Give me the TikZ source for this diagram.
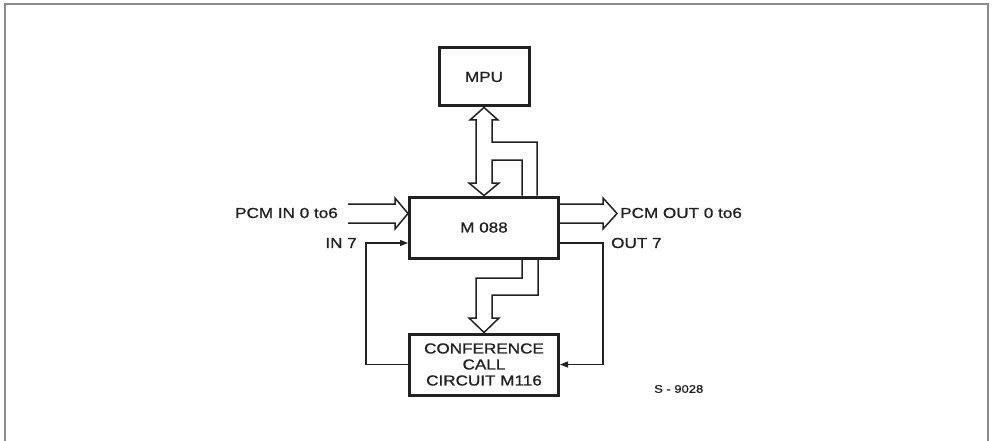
\documentclass[tikz,border=0pt]{standalone}
\usepackage{fontspec}
\setmainfont[FakeStretch=1.18,FakeBold=0.9]{Liberation Sans}
\usetikzlibrary{arrows.meta,calc}
\definecolor{ink}{gray}{0.13}
\definecolor{framec}{gray}{0.55}
\tikzset{
  blk/.style={draw=ink, line width=3pt, minimum width=149pt, minimum height=61pt, inner sep=0pt, text=ink,
    font=\fontsize{14.5}{16}\selectfont, align=center},
  bus/.style={draw=ink, line width=1.5pt, line join=miter},
  sig/.style={draw=ink, line width=1.3pt},
  sigarrow/.style={sig, -{Triangle[length=8pt,width=6pt]}},
  lbl/.style={text=ink, font=\fontsize{14.5}{16}\selectfont, inner sep=0pt},
  small/.style={text=ink, font=\fontsize{11}{13}\selectfont, inner sep=0pt}
}
\begin{document}
\begin{tikzpicture}[x=1pt,y=-1pt]
\useasboundingbox (0,0) rectangle (995,441);
\fill[white] (0,0) rectangle (995,441);
% outer frame
\draw[framec, line width=1.5pt] (5,441) -- (5,4) -- (988,4) -- (988,441);

% blocks
\node[blk, minimum width=90pt, minimum height=58pt] (mpu) at (484,77) {MPU};
\node[blk] (m088) at (484,227.5) {M 088};
\node[blk] (conf) at (484,364.5) {CONFERENCE\\CALL\\CIRCUIT M116};

% bus MPU <-> M088 with branch
\draw[bus] (m088.north -| 537,0) |- (492,142) -- (492,120) -- (498,120) -- (mpu.south)
  -- (470,120) -- (476,120) -- (476,183) -- (469,183) -- (m088.north)
  -- (499,183) -- (492,183) |- (522,160) -- (m088.north -| 522,0);

% bus M088 -> conference
\draw[bus] (m088.south -| 522,0) |- (476,278) -- (476,318) -- (469,318) -- (conf.north)
  -- (499,318) -- (492,318) |- (538,295) -- (m088.south -| 538,0);

% PCM IN bus
\coordinate (pin) at (400,213.5);
\draw[bus] (348,204) -- (395,204) -- (395,198) -- (pin -| m088.west)
  -- (395,229) -- (395,223) -- (348,223);
% PCM OUT bus
\coordinate (pout) at (617,213.5);
\draw[bus] (m088.east |- 0,204) -- (603,204) -- (603,198) -- (pout)
  -- (603,229) -- (603,223) -- (m088.east |- 0,223);

% IN 7 and OUT 7
\coordinate (cin) at (366,243);
\draw[sigarrow] (conf.west) -| (cin) -- (cin -| m088.west);
\coordinate (cout) at (603,243);
\draw[sigarrow] (cout -| m088.east) -- (cout) |- (conf.east);

% labels
\node[lbl, anchor=east] (lpin) at (338,213) {PCM IN 0 to6};
\node[lbl, anchor=east] (lin7) at (357,243) {IN 7};
\node[lbl, anchor=west] (lpout) at (620,213) {PCM OUT 0 to6};
\node[lbl, anchor=west] (lout7) at (611,243) {OUT 7};
\node[small, anchor=west] (fig) at (654,389) {S - 9028};
\end{tikzpicture}
\end{document}
